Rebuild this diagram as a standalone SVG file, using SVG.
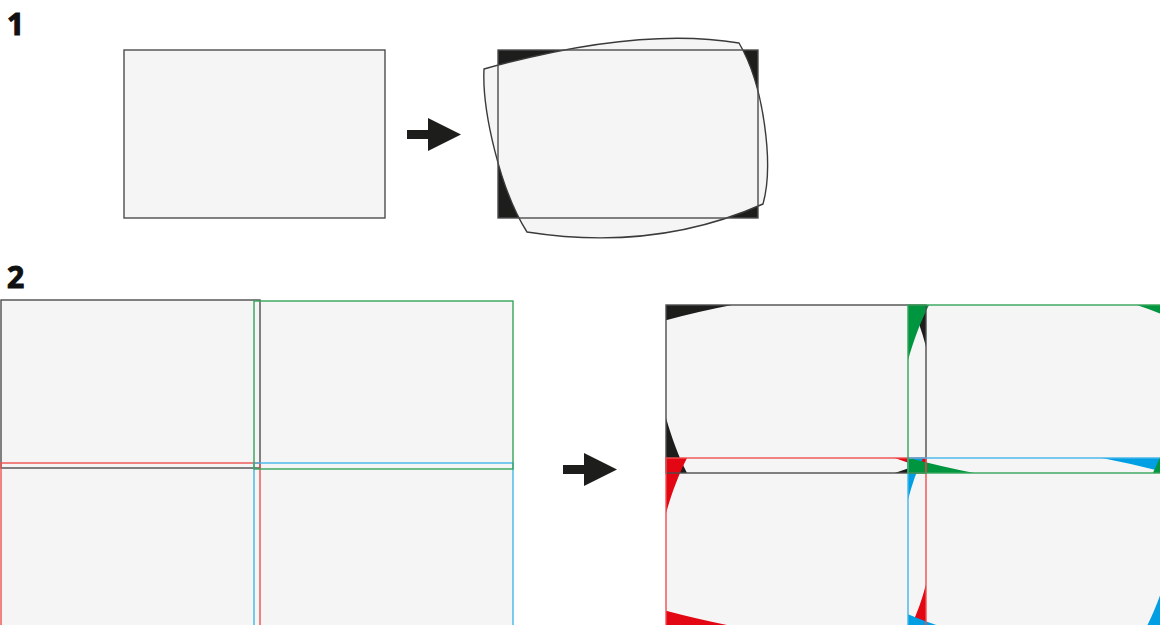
<svg xmlns="http://www.w3.org/2000/svg" xmlns:xlink="http://www.w3.org/1999/xlink" width="1160" height="625" viewBox="0 0 1160 625">
<style>
.num{font-family:"Open Sans","Liberation Sans",sans-serif;font-weight:bold;font-size:30px;fill:#111;stroke:#111;stroke-width:1.1}
.pane{fill:#f5f5f5}
.sk{fill:none;stroke:#4d4d4d;stroke-width:1.4}
.sg{fill:none;stroke:#35a55a;stroke-width:1.4}
.sr{fill:none;stroke:#f05050;stroke-width:1.4}
.sb{fill:none;stroke:#45b5ea;stroke-width:1.4}
.arrow{fill:#1d1d1b}
</style>
<defs>
<path id="warp" d="M-14 19 Q140 -24 241 -7 C266 35 276 115 265 154 Q157 202 29 182 C2 140 -16 60 -14 19 Z"/>
<path id="corners" fill-rule="evenodd" d="M0 0H260V168H0Z M-14 19 Q140 -24 241 -7 C266 35 276 115 265 154 Q157 202 29 182 C2 140 -16 60 -14 19 Z"/>
<clipPath id="rc"><rect x="0" y="0" width="260" height="168"/></clipPath>
</defs>

<text class="num" x="7" y="35">1</text>
<text class="num" x="7" y="288">2</text>

<g id="panel1-original">
<rect class="pane" x="124" y="50" width="261" height="168" stroke="#4d4d4d" stroke-width="1.4"/>
</g>

<g id="panel1-warped">
<rect x="498" y="50" width="260" height="168" fill="#1d1d1b"/>
<use xlink:href="#warp" transform="translate(498,50)" fill="#f5f5f5" stroke="#3a3a3a" stroke-width="1.4"/>
<rect class="sk" x="498" y="50" width="260" height="168"/>
</g>

<g id="connectors">
<polygon class="arrow" points="407,130 428,130 428,118 461,134.5 428,151 428,139 407,139"/>
<polygon class="arrow" points="563,465 584,465 584,453 617,469.5 584,486 584,474 563,474"/>
</g>

<g id="panel2-original">
<rect class="pane" x="1" y="300" width="259" height="168"/>
<rect class="pane" x="254" y="301" width="259" height="168"/>
<rect class="pane" x="1" y="463" width="259" height="168"/>
<rect class="pane" x="254" y="463" width="259" height="168"/>
<rect class="sk" x="1" y="300" width="259" height="168"/>
<rect class="sr" x="1" y="463" width="259" height="168"/>
<rect class="sb" x="254" y="463" width="259" height="168"/>
<rect class="sg" x="254" y="301" width="259" height="168"/>
</g>

<g id="panel2-warped">
<rect class="pane" x="666" y="305" width="260" height="168"/>
<rect class="pane" x="908" y="305" width="260" height="168"/>
<rect class="pane" x="666" y="458" width="260" height="168"/>
<rect class="pane" x="908" y="458" width="260" height="168"/>
<g transform="translate(666,305)"><g clip-path="url(#rc)"><use xlink:href="#corners" fill="#1d1d1b"/></g></g>
<g transform="translate(666,626) scale(1,-1)"><g clip-path="url(#rc)"><use xlink:href="#corners" fill="#e30613"/></g></g>
<g transform="translate(1168,458) scale(-1,1)"><g clip-path="url(#rc)"><use xlink:href="#corners" fill="#009fe3"/></g></g>
<g transform="translate(908,473) scale(1,-1)"><g clip-path="url(#rc)"><use xlink:href="#corners" fill="#009640"/></g></g>
<rect class="sk" x="666" y="305" width="260" height="168"/>
<rect class="sr" x="666" y="458" width="260" height="168"/>
<rect class="sb" x="908" y="458" width="260" height="168"/>
<rect class="sg" x="908" y="305" width="260" height="168"/>
</g>
</svg>
